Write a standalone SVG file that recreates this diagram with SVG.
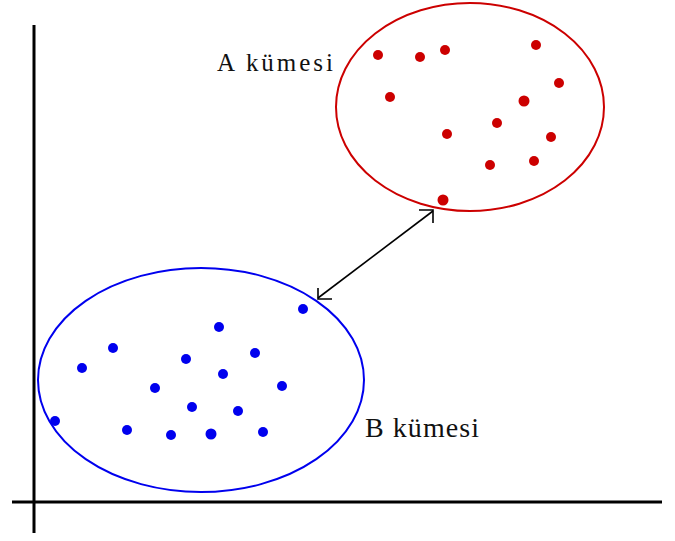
<svg xmlns="http://www.w3.org/2000/svg" width="675" height="541" viewBox="0 0 675 541">
<style>
.axis{stroke:#000;stroke-width:3;fill:none}
.lbl{font-family:"Liberation Serif","Times New Roman",serif;fill:#111}
.rdot{fill:#cc0000}
.bdot{fill:#0000ee}
.conn{stroke:#000;stroke-width:1.6;fill:none}
</style>
<rect width="675" height="541" fill="#fff"/>
<g id="axes">
<line class="axis" x1="34" y1="25" x2="34" y2="533"/>
<line class="axis" x1="12" y1="502" x2="662" y2="502"/>
</g>
<g id="clusterA">
<ellipse cx="470" cy="107" rx="134" ry="104" fill="none" stroke="#cc0000" stroke-width="2"/>
<circle class="rdot" cx="378" cy="55" r="5"/>
<circle class="rdot" cx="420" cy="57" r="5"/>
<circle class="rdot" cx="445" cy="50" r="5"/>
<circle class="rdot" cx="536" cy="45" r="5"/>
<circle class="rdot" cx="559" cy="83" r="5"/>
<circle class="rdot" cx="390" cy="97" r="5"/>
<circle class="rdot" cx="524" cy="101" r="5.5"/>
<circle class="rdot" cx="497" cy="123" r="5"/>
<circle class="rdot" cx="447" cy="134" r="5"/>
<circle class="rdot" cx="551" cy="137" r="5"/>
<circle class="rdot" cx="490" cy="165" r="5"/>
<circle class="rdot" cx="534" cy="161" r="5"/>
<circle class="rdot" cx="443" cy="200" r="5.5"/>
<text class="lbl" x="217" y="71" font-size="25" textLength="116" lengthAdjust="spacing">A kümesi</text>
</g>
<g id="clusterB">
<ellipse cx="201" cy="380" rx="163" ry="112" fill="none" stroke="#0000ee" stroke-width="2"/>
<circle class="bdot" cx="303" cy="309" r="5"/>
<circle class="bdot" cx="219" cy="327" r="5"/>
<circle class="bdot" cx="113" cy="348" r="5"/>
<circle class="bdot" cx="82" cy="368" r="5"/>
<circle class="bdot" cx="186" cy="359" r="5"/>
<circle class="bdot" cx="255" cy="353" r="5"/>
<circle class="bdot" cx="223" cy="374" r="5"/>
<circle class="bdot" cx="155" cy="388" r="5"/>
<circle class="bdot" cx="282" cy="386" r="5"/>
<circle class="bdot" cx="192" cy="407" r="5"/>
<circle class="bdot" cx="238" cy="411" r="5"/>
<circle class="bdot" cx="55" cy="421" r="5"/>
<circle class="bdot" cx="127" cy="430" r="5"/>
<circle class="bdot" cx="171" cy="435" r="5"/>
<circle class="bdot" cx="211" cy="434" r="5.5"/>
<circle class="bdot" cx="263" cy="432" r="5"/>
<text class="lbl" x="365" y="437" font-size="28" textLength="114" lengthAdjust="spacing">B kümesi</text>
</g>
<g id="connectors">
<line class="conn" x1="318" y1="298" x2="433" y2="211"/>
<path class="conn" d="M419,210 L433,210 L433,223"/>
<path class="conn" d="M318,288 L318,299 L332,299"/>
</g>
</svg>
